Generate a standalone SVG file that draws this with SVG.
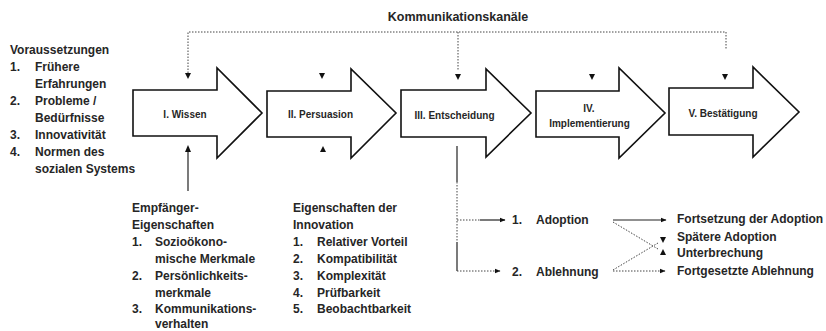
<svg xmlns="http://www.w3.org/2000/svg" width="826" height="331" viewBox="0 0 826 331">
<style>
  text { font-family: "Liberation Sans", Arial, sans-serif; font-weight: bold; fill: #262626; }
  .t12 { font-size: 12px; }
  .t10 { font-size: 10px; }
  .arrow { fill: #ffffff; stroke: #111; stroke-width: 1.6; stroke-linejoin: miter; }
  .solid { fill: none; stroke: #222; stroke-width: 1.2; }
  .dot { fill: none; stroke: #444; stroke-width: 1; stroke-dasharray: 1.5 1.5; }
  .tri { fill: #111; }
</style>
<defs>
  <marker id="ah" viewBox="0 0 6 6" refX="5.5" refY="3" markerWidth="6" markerHeight="6" markerUnits="userSpaceOnUse" orient="auto">
    <path d="M0,0.5 L6,3 L0,5.5 Z" fill="#111"/>
  </marker>
</defs>
<rect width="826" height="331" fill="#ffffff"/>

<!-- Title -->
<text class="t12" x="458" y="21" text-anchor="middle" style="font-size:12.5px">Kommunikationskanäle</text>

<!-- Stage arrows -->
<g id="stage1">
  <polygon class="arrow" points="133,90 217,90 217,68 262,113 217,158 217,136 133,136"/>
  <text class="t10" x="185" y="117.5" text-anchor="middle">I. Wissen</text>
</g>
<g id="stage2">
  <polygon class="arrow" points="267,91 351,91 351,69 396,113 351,158 351,137 267,137"/>
  <text class="t10" x="320.5" y="117.5" text-anchor="middle">II. Persuasion</text>
</g>
<g id="stage3">
  <polygon class="arrow" points="401,90 486,90 486,69 531,113 486,157 486,137 401,137"/>
  <text class="t10" x="454.5" y="118.5" text-anchor="middle">III. Entscheidung</text>
</g>
<g id="stage4">
  <polygon class="arrow" points="536,91 619,91 619,68 665,113 619,158 619,137 536,137"/>
  <text class="t10" x="589" y="111.5" text-anchor="middle">IV.</text>
  <text class="t10" x="589.5" y="126.5" text-anchor="middle">Implementierung</text>
</g>
<g id="stage5">
  <polygon class="arrow" points="669,88 753,88 753,67 799,112 753,157 753,135 669,135"/>
  <text class="t10" x="723" y="116.5" text-anchor="middle">V. Bestätigung</text>
</g>

<!-- Voraussetzungen -->
<g id="voraussetzungen">
  <text class="t12" x="10" y="54">Voraussetzungen</text>
  <text class="t12" x="10" y="71">1.</text><text class="t12" x="35" y="71">Frühere</text>
  <text class="t12" x="35" y="88">Erfahrungen</text>
  <text class="t12" x="10" y="105">2.</text><text class="t12" x="35" y="105">Probleme /</text>
  <text class="t12" x="35" y="122">Bedürfnisse</text>
  <text class="t12" x="10" y="139">3.</text><text class="t12" x="35" y="139">Innovativität</text>
  <text class="t12" x="10" y="156">4.</text><text class="t12" x="35" y="156">Normen des</text>
  <text class="t12" x="35" y="173">sozialen Systems</text>
</g>

<!-- Empfänger-Eigenschaften -->
<g id="empfaenger">
  <text class="t12" x="132" y="212">Empfänger-</text>
  <text class="t12" x="132" y="229">Eigenschaften</text>
  <text class="t12" x="132" y="246">1.</text><text class="t12" x="155" y="246">Sozioökono-</text>
  <text class="t12" x="155" y="263">mische Merkmale</text>
  <text class="t12" x="132" y="280">2.</text><text class="t12" x="155" y="280">Persönlichkeits-</text>
  <text class="t12" x="155" y="297">merkmale</text>
  <text class="t12" x="132" y="313">3.</text><text class="t12" x="155" y="313">Kommunikations-</text>
  <text class="t12" x="155" y="328">verhalten</text>
</g>

<!-- Eigenschaften der Innovation -->
<g id="innovation">
  <text class="t12" x="293" y="212">Eigenschaften der</text>
  <text class="t12" x="293" y="229">Innovation</text>
  <text class="t12" x="293" y="246">1.</text><text class="t12" x="317" y="246">Relativer Vorteil</text>
  <text class="t12" x="293" y="263">2.</text><text class="t12" x="317" y="263">Kompatibilität</text>
  <text class="t12" x="293" y="280">3.</text><text class="t12" x="317" y="280">Komplexität</text>
  <text class="t12" x="293" y="297">4.</text><text class="t12" x="317" y="297">Prüfbarkeit</text>
  <text class="t12" x="293" y="313">5.</text><text class="t12" x="317" y="313">Beobachtbarkeit</text>
</g>

<!-- Decision outcomes -->
<g id="adoption">
  <text class="t12" x="512" y="224">1.</text><text class="t12" x="536" y="224">Adoption</text>
</g>
<g id="ablehnung">
  <text class="t12" x="512" y="276">2.</text><text class="t12" x="536" y="276">Ablehnung</text>
</g>
<g id="fortsetzung"><text class="t12" x="677" y="223">Fortsetzung der Adoption</text></g>
<g id="spaetere"><text class="t12" x="677" y="241">Spätere Adoption</text></g>
<g id="unterbrechung"><text class="t12" x="677" y="257">Unterbrechung</text></g>
<g id="fortgesetzte"><text class="t12" x="677" y="275">Fortgesetzte Ablehnung</text></g>

<!-- Connectors -->
<g id="connectors">
  <!-- communication channels -->
  <path class="dot" d="M188,73 V32 H726 V50"/>
  <path class="dot" d="M458,32 V70"/>
  <polygon class="tri" points="185,73 191,73 188,79"/>
  <polygon class="tri" points="319,73 325,73 322,79"/>
  <polygon class="tri" points="455,74 461,74 458,80"/>
  <polygon class="tri" points="589,74 595,74 592,80"/>
  <polygon class="tri" points="722,74 728,74 725,80"/>
  <!-- upward inputs -->
  <path class="solid" d="M188,191 V151"/>
  <polygon class="tri" points="185,152 191,152 188,145"/>
  <polygon class="tri" points="320,152 326,152 323,146"/>
  <!-- decision branch -->
  <path class="solid" d="M457,146 V182"/>
  <path class="dot" d="M457,182 V242"/>
  <path class="solid" d="M457,242 V271"/>
  <path class="dot" d="M457,271 H500" marker-end="url(#ah)"/>
  <path class="dot" d="M457,220 H480"/>
  <path class="solid" d="M480,220 H505" marker-end="url(#ah)"/>
  <!-- outcomes -->
  <path class="solid" d="M613,220 H666" marker-end="url(#ah)"/>
  <path class="dot" d="M613,222 L658,249"/>
  <polygon class="tri" points="660,255 666,255 663,249"/>
  <path class="dot" d="M613,270 L658,243"/>
  <polygon class="tri" points="660,237 666,237 663,243"/>
  <path class="dot" d="M613,271 H665" marker-end="url(#ah)"/>
</g>
</svg>
